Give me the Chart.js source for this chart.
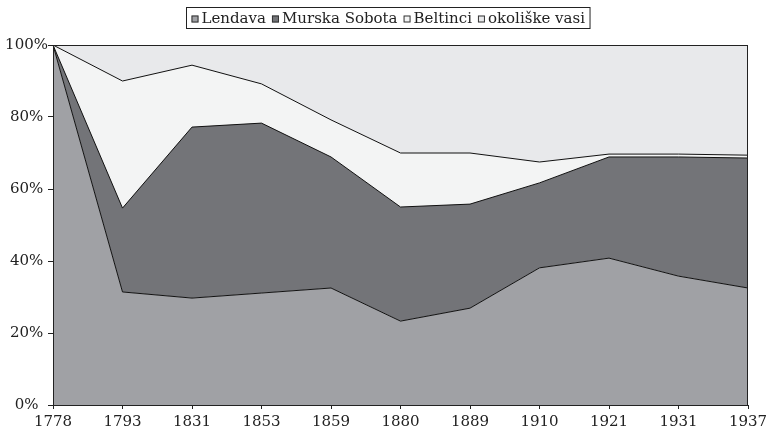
<!DOCTYPE html>
<html>
<head>
<meta charset="utf-8">
<script src="https://cdn.jsdelivr.net/npm/chart.js@4.4.0/dist/chart.umd.min.js"></script>
<style>
    html, body { margin: 0; padding: 0; background: #fff; }
    #wrap { width: 768px; height: 427px; }
</style>
</head>
<body>
<div id="wrap"><canvas id="areaChart" width="768" height="427"></canvas></div>
<script>
// share of each place, per census year (%)
const years = ["1778", "1793", "1831", "1853", "1859", "1880", "1889", "1910", "1921", "1931", "1937"];
const lendava = [100, 31.4, 29.7, 31.1, 32.5, 23.3, 26.9, 38.1, 40.8, 35.8, 32.5];
const murskaSobota = [0, 23.3, 47.5, 47.2, 36.4, 31.7, 28.9, 23.6, 28.1, 33.1, 36.1];
const beltinci = [0, 35.3, 17.2, 10.9, 10.3, 15.0, 14.2, 5.8, 0.8, 0.8, 0.8];
const okoliskeVasi = [0, 10.0, 5.6, 10.8, 20.8, 30.0, 30.0, 32.5, 30.3, 30.3, 30.6];
const yTicks = [0, 20, 40, 60, 80, 100];

const FONT = "DejaVu Serif";

function series(label, data, color, fill) {
    return {
        label: label,
        data: data,
        backgroundColor: color,
        borderColor: "#111",
        borderWidth: 1,
        fill: fill,
        tension: 0,
        pointRadius: 0,
    };
}

// boxed legend at the top, like the original
const boxedLegend = {
    id: "boxedLegend",
    afterDraw(chart) {
        const ctx = chart.ctx;
        const sets = chart.data.datasets;
        ctx.save();
        ctx.font = "15px '" + FONT + "'";
        ctx.textBaseline = "middle";
        const mark = 7, gap = 3, spacing = 6, pad = 5;
        let total = 0;
        sets.forEach((d, i) => {
            total += mark + gap + ctx.measureText(d.label).width;
            if (i < sets.length - 1) total += spacing;
        });
        const boxW = total + pad * 2;
        const left = Math.round((chart.width - boxW) / 2) + 4.5;
        const top = 7.5, h = 21;
        ctx.strokeStyle = "#222";
        ctx.lineWidth = 1;
        ctx.strokeRect(left, top, boxW, h);
        let x = left + pad;
        const cy = top + h / 2 + 1;
        sets.forEach(d => {
            ctx.fillStyle = d.backgroundColor;
            ctx.fillRect(x, cy - mark / 2, mark, mark);
            ctx.strokeStyle = "#333";
            ctx.strokeRect(x + 0.5, cy - mark / 2 + 0.5, mark - 1, mark - 1);
            x += mark + gap;
            ctx.fillStyle = "#222";
            ctx.fillText(d.label, x, cy);
            x += ctx.measureText(d.label).width + spacing;
        });
        ctx.restore();
    }
};

const plotFrame = {
    id: "plotFrame",
    afterDatasetsDraw(chart) {
        const a = chart.chartArea;
        const ctx = chart.ctx;
        ctx.save();
        ctx.strokeStyle = "#222";
        ctx.lineWidth = 1;
        ctx.strokeRect(Math.round(a.left) + 0.5, Math.round(a.top) + 0.5,
            Math.round(a.right - a.left) - 1, Math.round(a.bottom - a.top));
        ctx.restore();
    }
};

new Chart(document.getElementById("areaChart"), {
    type: "line",
    data: {
        labels: years,
        datasets: [
            series("Lendava", lendava, "#a0a1a5", "origin"),
            series("Murska Sobota", murskaSobota, "#737478", "-1"),
            series("Beltinci", beltinci, "#f3f4f4", "-1"),
            series("okoliške vasi", okoliskeVasi, "#e8e9eb", "-1"),
        ]
    },
    options: {
        responsive: false,
        animation: false,
        layout: { padding: { top: 45, right: 20, left: 0, bottom: 0 } },
        plugins: {
            legend: { display: false },
            tooltip: { enabled: false },
        },
        scales: {
            x: {
                type: "category",
                offset: false,
                grid: { display: true, drawOnChartArea: false, tickLength: 4, color: "#222" },
                border: { color: "#222" },
                ticks: { color: "#222", font: { family: FONT, size: 15 }, padding: 4, maxRotation: 0, autoSkip: false },
                afterFit(scale) {
                    scale.height = 22;
                    scale.paddingLeft = 0;
                    scale.paddingRight = 0;
                },
            },
            y: {
                stacked: true,
                min: 0,
                max: 100,
                afterBuildTicks(scale) { scale.ticks = yTicks.map(v => ({ value: v })); },
                grid: { display: true, drawOnChartArea: false, tickLength: 5, color: "#222" },
                border: { color: "#222" },
                ticks: {
                    color: "#222",
                    font: { family: FONT, size: 15 },
                    padding: 0,
                    crossAlign: "center",
                    callback: v => v + "%",
                },
                afterFit(scale) {
                    scale.width = 53;
                    scale.paddingTop = 0;
                    scale.paddingBottom = 0;
                },
            }
        }
    },
    plugins: [boxedLegend, plotFrame]
});
</script>
</body>
</html>
